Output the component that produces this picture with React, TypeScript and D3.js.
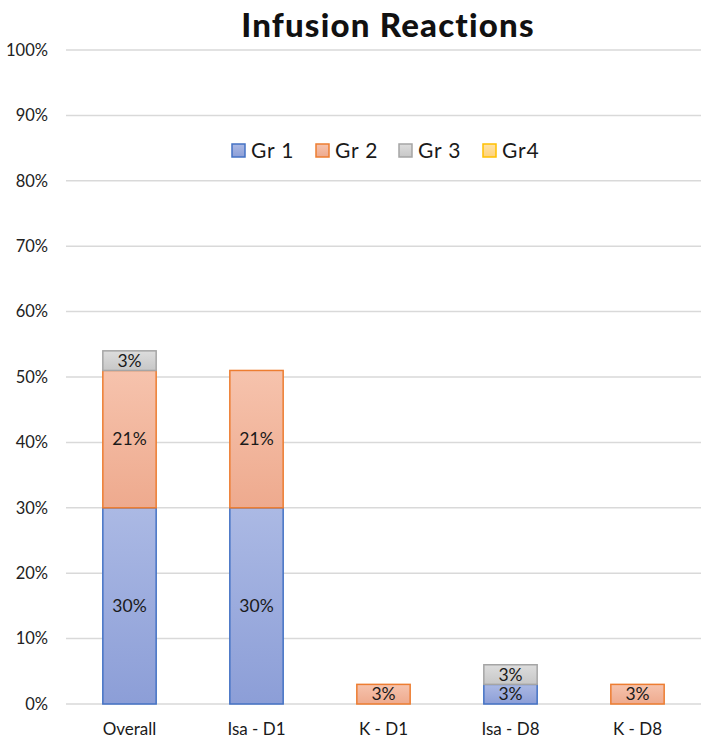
import React from "react";
import * as d3 from "d3";

const categories = ["Overall", "Isa - D1", "K - D1", "Isa - D8", "K - D8"];
const seriesNames = ["Gr 1", "Gr 2", "Gr 3", "Gr4"];
const gr1 = [30, 30, 0, 3, 0];
const gr2 = [21, 21, 3, 0, 3];
const gr3 = [3, 0, 0, 3, 0];
const gr4 = [0, 0, 0, 0, 0];
const yTicks = [0, 10, 20, 30, 40, 50, 60, 70, 80, 90, 100];

const strokes = ["#4472c4", "#ed7d31", "#a5a5a5", "#ffc000"];
const gradTop = ["#abb9e4", "#f6c3ad", "#dddddd", "#ffe3a6"];
const gradBot = ["#8c9ed7", "#eeaa8e", "#c7c7c7", "#ffd27a"];

const W = 709;
const H = 742;
const FONT = "Lato, 'Open Sans', sans-serif";

export default function App() {
  const left = 66;
  const right = 701;
  const top = 50;
  const bottom = 704;

  const x = d3.scaleBand<string>().domain(categories).range([left, right]).paddingInner(0.58).paddingOuter(0.29);
  const y = d3.scaleLinear().domain([0, 100]).range([bottom, top]);

  const rows = categories.map((c, i) => ({ cat: c, s0: gr1[i], s1: gr2[i], s2: gr3[i], s3: gr4[i] }));
  const stack = d3.stack<any>().keys(["s0", "s1", "s2", "s3"])(rows);

  const legendX = [232, 316, 399, 483];

  return (
    <svg width={W} height={H} style={{ position: "absolute", left: 0, top: 0, background: "#fff" }} fontFamily={FONT}>
      <defs>
        {seriesNames.map((_, k) => (
          <linearGradient key={k} id={`g${k}`} x1="0" y1="0" x2="0" y2="1">
            <stop offset="0%" stopColor={gradTop[k]} />
            <stop offset="100%" stopColor={gradBot[k]} />
          </linearGradient>
        ))}
      </defs>
      <text x={388} y={37} textAnchor="middle" fontSize={33} fontWeight={900} fill="#111" letterSpacing={1.2}>
        Infusion Reactions
      </text>
      {yTicks.map((t) => (
        <g key={t}>
          <line x1={left} x2={right} y1={y(t)} y2={y(t)} stroke="#d9d9d9" strokeWidth={1.5} />
          <text x={48} y={y(t)} dy="0.35em" textAnchor="end" fontSize={16.5} fill="#222">
            {t}%
          </text>
        </g>
      ))}
      {stack.map((layer, k) =>
        layer.map((d, i) => {
          const v = d[1] - d[0];
          if (v <= 0) return null;
          const bx = x(categories[i])!;
          const y0 = y(d[0]);
          const y1 = y(d[1]);
          return (
            <g key={`${k}-${i}`}>
              <rect x={bx} y={y1} width={x.bandwidth()} height={y0 - y1} fill={`url(#g${k})`} stroke={strokes[k]} strokeWidth={1.5} />
              <text x={bx + x.bandwidth() / 2} y={(y0 + y1) / 2} dy="0.36em" textAnchor="middle" fontSize={17.5} fill="#1a1a1a">
                {v}%
              </text>
            </g>
          );
        })
      )}
      {categories.map((c) => (
        <text key={c} x={x(c)! + x.bandwidth() / 2} y={735} textAnchor="middle" fontSize={17} fill="#1a1a1a">
          {c}
        </text>
      ))}
      {seriesNames.map((n, k) => (
        <g key={n}>
          <rect x={legendX[k]} y={144} width={13} height={13} fill={`url(#g${k})`} stroke={strokes[k]} strokeWidth={1.5} />
          <text x={legendX[k] + 19} y={157.5} fontSize={21} fill="#1a1a1a" letterSpacing={0.8}>
            {n}
          </text>
        </g>
      ))}
    </svg>
  );
}
